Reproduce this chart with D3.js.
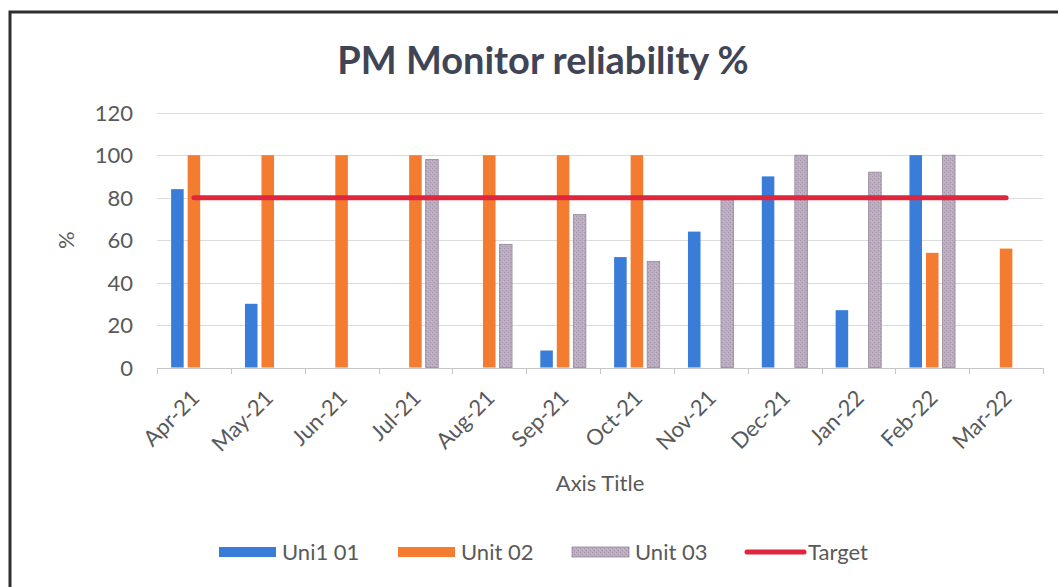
<!DOCTYPE html>
<html>
<head>
<meta charset="utf-8">
<script src="https://cdn.jsdelivr.net/npm/d3@7"></script>
<style>
  html, body { margin: 0; padding: 0; background: #fff; }
  svg { display: block; }
  text { font-family: Lato, "Noto Sans", sans-serif; }
</style>
</head>
<body>
<svg id="chart" width="1058" height="587"></svg>
<script>
// ---- data ----
const months = ["Apr-21","May-21","Jun-21","Jul-21","Aug-21","Sep-21","Oct-21","Nov-21","Dec-21","Jan-22","Feb-22","Mar-22"];
const seriesNames = ["Uni1 01","Unit 02","Unit 03"];
const unit01 = [84, 30, null, null, null, 8, 52, 64, 90, 27, 100, null];
const unit02 = [100, 100, 100, 100, 100, 100, 100, null, null, null, 54, 56];
const unit03 = [null, null, null, 98, 58, 72, 50, 79, 100, 92, 100, null];
const target = [80, 80, 80, 80, 80, 80, 80, 80, 80, 80, 80, 80];
const yTicks = [0, 20, 40, 60, 80, 100, 120];
const titleText = "PM Monitor reliability %";
const xTitleText = "Axis Title";
const yTitleText = "%";
const targetName = "Target";

const colors = { "Uni1 01": "#3a7dd8", "Unit 02": "#f47c30", "Unit 03": "url(#purpleTex)" };
const strokes = { "Uni1 01": "none", "Unit 02": "none", "Unit 03": "#948699" };
const targetColor = "#e0263c";

const svg = d3.select("#chart");

// texture for Unit 03
const defs = svg.append("defs");
const pat = defs.append("pattern").attr("id", "purpleTex")
  .attr("patternUnits", "userSpaceOnUse").attr("width", 4).attr("height", 4);
pat.append("rect").attr("width", 4).attr("height", 4).attr("fill", "#bcadc1");
pat.append("rect").attr("x", 0).attr("y", 0).attr("width", 1).attr("height", 1).attr("fill", "#a797ac");
pat.append("rect").attr("x", 2).attr("y", 2).attr("width", 1).attr("height", 1).attr("fill", "#a293a8");
pat.append("rect").attr("x", 3).attr("y", 1).attr("width", 1).attr("height", 1).attr("fill", "#c9bccd");

// frame (top + left border)
svg.append("path").attr("d", "M10,587 L10,12 L1058,12")
  .attr("fill", "none").attr("stroke", "#2e2e2e").attr("stroke-width", 3);

// scales
const plotLeft = 157, plotRight = 1043, plotTop = 112.7, plotBottom = 367.5;
const x = d3.scaleBand().domain(months).range([plotLeft, plotRight]).paddingInner(0).paddingOuter(0);
const x1 = d3.scaleBand().domain(seriesNames).range([0, x.bandwidth()]).paddingInner(0.24).paddingOuter(0.855);
const y = d3.scaleLinear().domain([0, 120]).range([plotBottom, plotTop]);

// gridlines
svg.append("g").selectAll("line").data(yTicks.filter(d => d > 0)).join("line")
  .attr("x1", plotLeft).attr("x2", plotRight)
  .attr("y1", d => Math.round(y(d)) + 0.5).attr("y2", d => Math.round(y(d)) + 0.5)
  .attr("stroke", "#dcdcdc").attr("stroke-width", 1);

// y axis labels
const yAxis = d3.axisLeft(y).tickValues(yTicks).tickSize(0).tickPadding(0);
const yg = svg.append("g").attr("transform", `translate(${133},0)`).call(yAxis);
yg.select(".domain").remove();
yg.selectAll("text").attr("font-size", 22).attr("fill", "#595959")
  .attr("font-family", "Lato, 'Noto Sans', sans-serif").attr("dy", "0.35em");

// bars
const seriesData = [unit01, unit02, unit03];
const barG = svg.append("g");
seriesNames.forEach((name, si) => {
  barG.append("g").selectAll("rect")
    .data(months.map((m, i) => ({ m, v: seriesData[si][i] })).filter(d => d.v !== null))
    .join("rect")
    .attr("x", d => x(d.m) + x1(name))
    .attr("width", x1.bandwidth())
    .attr("y", d => y(d.v))
    .attr("height", d => y(0) - y(d.v))
    .attr("fill", colors[name])
    .attr("stroke", strokes[name])
    .attr("stroke-width", strokes[name] === "none" ? 0 : 0.8);
});

// x axis (baseline + ticks)
const xAxisG = svg.append("g");
xAxisG.append("line").attr("x1", plotLeft).attr("x2", plotRight)
  .attr("y1", Math.round(y(0)) + 0.5).attr("y2", Math.round(y(0)) + 0.5)
  .attr("stroke", "#c6c6c6").attr("stroke-width", 1);
const tickPos = months.map(m => x(m)).concat([x(months[months.length - 1]) + x.bandwidth()]);
xAxisG.selectAll("line.tk").data(tickPos).join("line").attr("class", "tk")
  .attr("x1", d => Math.round(d) + 0.5).attr("x2", d => Math.round(d) + 0.5)
  .attr("y1", Math.round(y(0))).attr("y2", Math.round(y(0)) + 6)
  .attr("stroke", "#c6c6c6").attr("stroke-width", 1);

// x labels rotated
xAxisG.selectAll("text.xl").data(months).join("text").attr("class", "xl")
  .attr("transform", d => `translate(${x(d) + x.bandwidth() / 2 - 4},${y(0) + 21}) rotate(-45)`)
  .attr("text-anchor", "end").attr("dy", "0.7em")
  .attr("font-size", 22).attr("fill", "#595959").text(d => d);

// target line
const line = d3.line().x((d, i) => x(months[i]) + x.bandwidth() / 2).y(d => y(d));
svg.append("path").datum(target).attr("d", line)
  .attr("fill", "none").attr("stroke", targetColor).attr("stroke-width", 5)
  .attr("stroke-linecap", "round");

// titles
svg.append("text").attr("x", 543).attr("y", 74).attr("text-anchor", "middle")
  .attr("font-size", 38).attr("font-weight", "bold").attr("fill", "#404556").text(titleText);
svg.append("text").attr("x", (plotLeft + plotRight) / 2).attr("y", 491).attr("text-anchor", "middle")
  .attr("font-size", 22).attr("fill", "#595959").text(xTitleText);
svg.append("text").attr("transform", `translate(74,${(plotTop + plotBottom) / 2}) rotate(-90)`)
  .attr("text-anchor", "middle").attr("font-size", 22).attr("fill", "#595959").text(yTitleText);

// legend
const legendItems = [
  { name: seriesNames[0], type: "bar", x: 219 },
  { name: seriesNames[1], type: "bar", x: 398 },
  { name: seriesNames[2], type: "bar", x: 572 },
  { name: targetName, type: "line", x: 745 }
];
const lg = svg.append("g");
legendItems.forEach(it => {
  if (it.type === "bar") {
    lg.append("rect").attr("x", it.x).attr("y", 547).attr("width", 57).attr("height", 10)
      .attr("fill", colors[it.name]).attr("stroke", strokes[it.name])
      .attr("stroke-width", strokes[it.name] === "none" ? 0 : 0.8);
    lg.append("text").attr("x", it.x + 63).attr("y", 552).attr("dy", "0.35em")
      .attr("font-size", 22).attr("fill", "#595959").text(it.name);
  } else {
    lg.append("line").attr("x1", it.x + 2).attr("x2", it.x + 59).attr("y1", 552).attr("y2", 552)
      .attr("stroke", targetColor).attr("stroke-width", 5).attr("stroke-linecap", "round");
    lg.append("text").attr("x", it.x + 63).attr("y", 552).attr("dy", "0.35em")
      .attr("font-size", 22).attr("fill", "#595959").text(it.name);
  }
});
</script>
</body>
</html>
